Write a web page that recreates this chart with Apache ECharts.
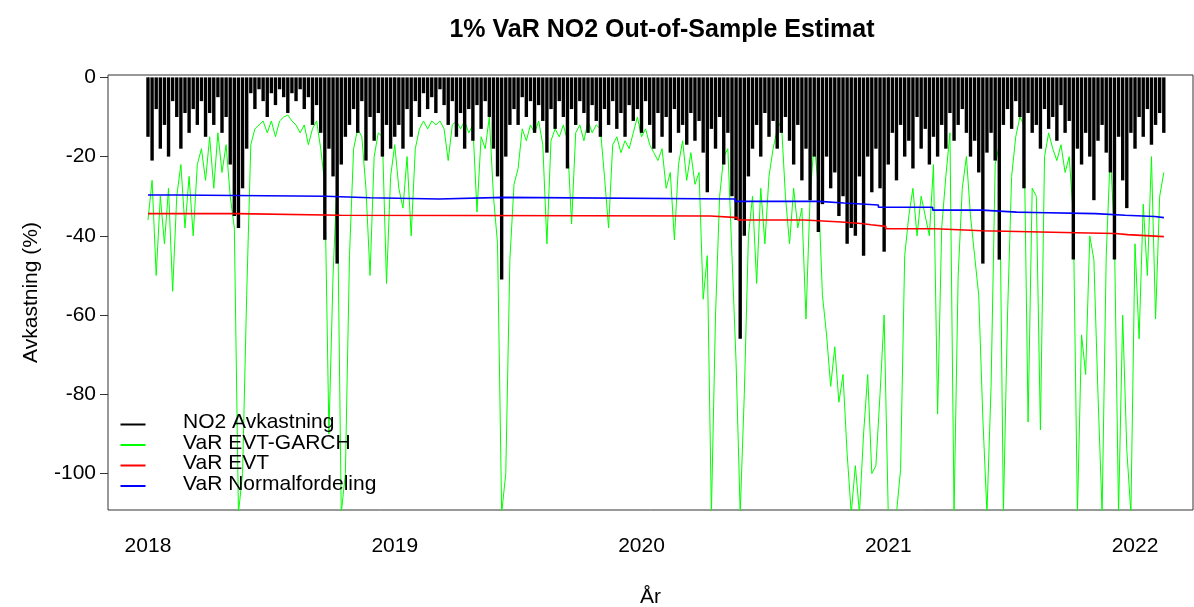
<!DOCTYPE html>
<html>
<head>
<meta charset="utf-8">
<script src="https://cdn.jsdelivr.net/npm/echarts@6/dist/echarts.min.js"></script>
<style>
  html, body { margin: 0; padding: 0; background: #fff; }
  #chart { width: 1194px; height: 607px; }
</style>
</head>
<body>
<div id="chart"></div>
<script>
// sampled every 1/60 year from start of 2018
const startYear = 2018;
const step = 1 / 60;

const yearTicks = [2018, 2019, 2020, 2021, 2022];
const valueTicks = [-100, -80, -60, -40, -20, 0];

// NO2 returns (negative moves, %)
const returnsNO2 = [
  -15, -21, -8, -18, -12, -20, -6, -10, -18, -9, -14,
  -8, -12, -6, -15, -9, -12, -5, -14, -10, -22,
  -35, -38, -28, -18,
  -4, -8, -3, -6, -10, -4, -7, -3, -5, -9, -4, -6, -3, -8, -5, -12, -7, -14,
  -41, -18, -25, -47, -22, -15, -12,
  -8, -14, -6, -21, -10, -16, -9, -20, -12, -18, -15,
  -12, -18, -8, -15, -6, -10, -4, -8, -5, -9, -3, -7,
  -12, -6, -15, -9, -18, -8, -16, -7, -13, -6, -10, -18,
  -25, -51, -20, -12,
  -8, -12, -5, -10, -6, -14, -7, -11, -19, -8, -13, -6,
  -10, -23, -8, -12, -6, -9, -14, -7, -11, -15, -8, -12,
  -6, -13, -9, -15, -7, -11, -8, -14, -6, -12, -18, -9, -15,
  -10, -19, -8, -14, -12, -17, -9, -16, -11, -19,
  -29, -13, -18, -10, -22, -14,
  -30, -36, -66, -40, -25, -18,
  -12, -20, -9, -15, -11, -18, -14, -10, -16,
  -22, -12, -26, -18, -31, -20,
  -39, -32, -20,
  -28, -24, -35, -30, -42, -38, -40,
  -25, -45, -20, -29, -18, -28, -44,
  -22, -14, -26, -12, -20, -16, -23, -10, -18, -13, -22,
  -15, -20, -12, -18, -9, -16, -12, -8, -14,
  -20, -16, -24, -47, -19, -14,
  -21, -46, -12, -8, -13, -6, -10,
  -28, -9, -14, -12, -18, -8, -13,
  -10, -16, -7, -14, -11, -46,
  -18, -22, -14, -20, -31, -16,
  -12, -19, -24, -46, -15,
  -26, -33, -14, -18,
  -10, -15, -8, -17, -12, -9, -14
];

// VaR EVT-GARCH
const varEvtGarch = [
  -36, -26, -50, -30, -42, -28, -54, -30, -22, -38,
  -25, -40, -22, -18, -26, -15, -28, -14, -24, -17,
  -30, -38, -110, -100, -55, -17, -13, -12, -11, -14,
  -11, -15, -11, -10, -9.5, -11, -12, -14, -12, -17,
  -13, -11, -18, -27, -90, -50, -25, -110, -100, -45,
  -18, -13, -15, -28, -50, -20, -14, -15, -52, -25,
  -17, -28, -33, -20, -40, -18, -13, -11, -13, -11,
  -12, -11, -13, -21, -12, -11, -13, -11, -14, -12,
  -34, -15, -18, -10, -30, -42, -110, -100, -46, -27,
  -23, -13, -16, -12, -14, -11, -17, -42, -16, -13,
  -15, -12, -16, -37, -14, -12, -16, -11, -14, -12,
  -13, -25, -38, -17, -15, -19, -16, -18, -14, -10,
  -15, -13, -17, -19, -21, -18, -28, -24, -41, -22,
  -16, -26, -19, -27, -24, -56, -45, -110, -60, -30,
  -20, -18, -45, -72, -110, -80, -40, -30, -52, -28,
  -42, -25, -18, -13, -11, -30, -42, -28, -38, -33,
  -61, -30, -16, -28, -55, -65, -78, -68, -82, -75,
  -95, -110, -98, -110, -90, -75, -100, -98, -80, -60,
  -110, -110, -110, -99, -45, -35, -28, -40, -30, -35,
  -40, -22, -85, -38, -25, -14, -110, -50, -28, -20,
  -35, -45, -55, -86, -110, -78, -22, -17, -110, -60,
  -25, -15, -10, -12, -87, -28, -30, -89, -20, -14,
  -18, -21, -17, -24, -20, -35, -110, -65, -75, -40,
  -46, -80, -110, -45, -19, -40, -110, -60, -94, -110,
  -42, -66, -32, -50, -20, -61, -30, -24
];

// VaR EVT: level changes
const evtDates  = [2018.00, 2018.36, 2018.78, 2020.28, 2020.39, 2020.66, 2020.81, 2020.89, 2020.93, 2020.99, 2021.19, 2021.38, 2021.76, 2021.92, 2021.97, 2022.117];
const evtLevels = [-34.4, -34.8, -35.0, -35.4, -36.0, -36.5, -36.9, -37.2, -37.6, -38.2, -38.7, -39.2, -39.4, -39.7, -40.2, -40.2];

// VaR normal distribution: level changes
const normDates  = [2018.00, 2018.11, 2018.72, 2018.90, 2019.18, 2019.44, 2020.38, 2020.72, 2020.82, 2020.96, 2021.18, 2021.38, 2021.52, 2021.59, 2021.84, 2021.96, 2022.08, 2022.117];
const normLevels = [-29.7, -30.0, -30.4, -30.7, -30.3, -30.7, -31.3, -31.7, -32.2, -32.8, -33.5, -34.0, -34.1, -34.4, -34.8, -35.1, -35.4, -35.4];

const legendNames = ['NO2 Avkastning', 'VaR EVT-GARCH', 'VaR EVT', 'VaR Normalfordeling'];
const legendColors = ['#000000', '#00ff00', '#ff0000', '#0000ff'];

const font = "'Liberation Sans', Arial, sans-serif";

const asXY = (arr) => arr.map((v, i) => [startYear + i * step, v]);
const zipXY = (xs, ys) => xs.map((x, i) => [x, ys[i]]);

const chart = echarts.init(document.getElementById('chart'));

const legendGraphics = [];
legendNames.forEach((name, i) => {
  const y = 423 + i * 20.5;
  legendGraphics.push({
    type: 'line', left: 118, top: y - 1,
    shape: { x1: 0, y1: 0, x2: 25, y2: 0 },
    style: { stroke: legendColors[i], lineWidth: 2 }, z: 10
  });
  legendGraphics.push({
    type: 'text', left: 183, top: y - 11,
    style: { text: name, fill: '#000', font: '21px ' + font }, z: 10
  });
});

chart.setOption({
  animation: false,
  backgroundColor: '#fff',
  title: {
    text: '1% VaR NO2 Out-of-Sample Estimat',
    left: 657, top: 13, textAlign: 'center',
    textStyle: { fontFamily: font, fontSize: 25, fontWeight: 'bold', color: '#000' }
  },
  grid: {
    left: 108, right: 1, top: 75, bottom: 97,
    outerBoundsMode: 'none', containLabel: false,
    show: true, borderColor: '#333', borderWidth: 1
  },
  xAxis: {
    type: 'value',
    min: 2017.838, max: 2022.235,
    name: 'År', nameLocation: 'middle', nameGap: 77,
    nameTextStyle: { fontFamily: font, fontSize: 21, color: '#000' },
    axisLine: { show: false },
    splitLine: { show: false },
    axisTick: { show: true, length: 11, customValues: yearTicks, lineStyle: { color: '#333' } },
    axisLabel: { customValues: yearTicks, margin: 26, fontFamily: font, fontSize: 21, color: '#000',
      formatter: (v) => String(Math.round(v)) }
  },
  yAxis: {
    type: 'value',
    min: -109.2, max: 0.6,
    name: 'Avkastning (%)', nameLocation: 'middle', nameGap: 66,
    nameTextStyle: { fontFamily: font, fontSize: 21, color: '#000' },
    axisLine: { show: false },
    splitLine: { show: false },
    axisTick: { show: true, length: 8, customValues: valueTicks, lineStyle: { color: '#333' } },
    axisLabel: { customValues: valueTicks, margin: 12, fontFamily: font, fontSize: 21, color: '#000' }
  },
  graphic: legendGraphics,
  series: [
    {
      name: legendNames[1], type: 'line', data: asXY(varEvtGarch),
      showSymbol: false, lineStyle: { color: '#00ff00', width: 1 }, z: 2
    },
    {
      name: legendNames[0], type: 'bar', data: asXY(returnsNO2),
      barWidth: 3.4, itemStyle: { color: '#000' }, z: 3
    },
    {
      name: legendNames[2], type: 'line', step: 'end', data: zipXY(evtDates, evtLevels),
      showSymbol: false, lineStyle: { color: '#ff0000', width: 1.6 }, z: 4
    },
    {
      name: legendNames[3], type: 'line', step: 'end', data: zipXY(normDates, normLevels),
      showSymbol: false, lineStyle: { color: '#0000ff', width: 1.6 }, z: 4
    }
  ]
});
</script>
</body>
</html>
